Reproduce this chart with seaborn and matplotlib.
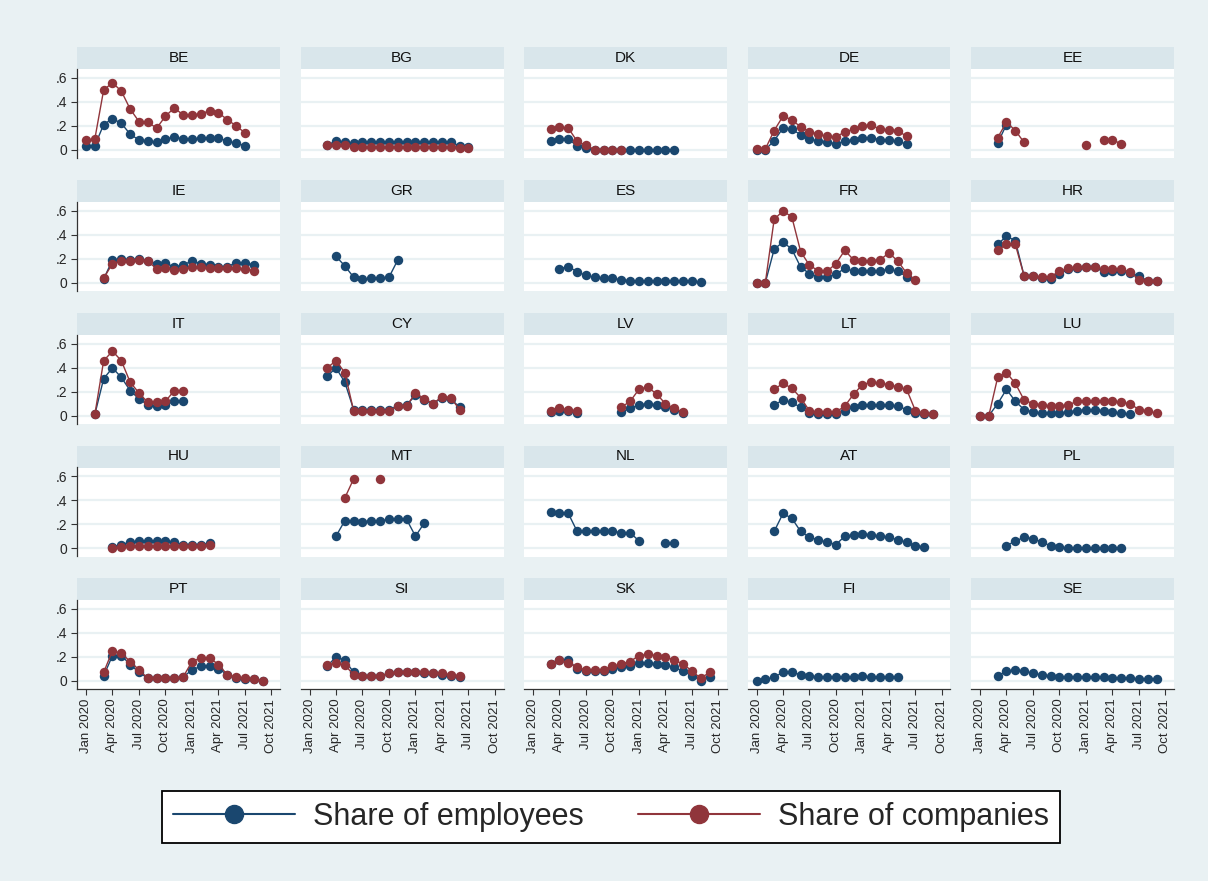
import matplotlib
matplotlib.use("Agg")
import pandas as pd
import matplotlib.pyplot as plt
from matplotlib.lines import Line2D
import seaborn as sns

# panel order, row by row
countries = ["BE", "BG", "DK", "DE", "EE",
             "IE", "GR", "ES", "FR", "HR",
             "IT", "CY", "LV", "LT", "LU",
             "HU", "MT", "NL", "AT", "PL",
             "PT", "SI", "SK", "FI", "SE"]

# month of the first value of each series (0 = Jan 2020)
start_month = [0, 2, 2, 0, 2,
               2, 3, 3, 0, 2,
               1, 2, 2, 2, 0,
               3, 3, 2, 2, 3,
               2, 2, 2, 0, 2]

tick_labels = ["Jan 2020", "Apr 2020", "Jul 2020", "Oct 2020",
               "Jan 2021", "Apr 2021", "Jul 2021", "Oct 2021"]

be_emp = [.033, .033, .21, .26, .22, .13, .08, .075, .06, .09, .105, .09, .09, .095, .1, .1, .07, .055, .033]
be_comp = [.08, .09, .5, .56, .49, .34, .235, .23, .18, .28, .35, .29, .29, .3, .325, .31, .25, .2, .14]
bg_emp = [.04, .07, .065, .055, .06, .065, .065, .065, .065, .065, .065, .065, .065, .065, .065, .03, .02]
bg_comp = [.035, .04, .04, .025, .025, .025, .025, .025, .025, .025, .025, .025, .025, .025, .025, .015, .012]
dk_emp = [.075, .09, .09, .03, .01, 0, 0, 0, 0, 0, 0, 0, 0, 0, 0]
dk_comp = [.175, .19, .18, .07, .035, 0, 0, 0, 0]
de_emp = [0, 0, .075, .18, .17, .125, .09, .07, .06, .05, .07, .083, .1, .1, .083, .078, .07, .047]
de_comp = [.005, .005, .16, .28, .25, .19, .15, .13, .11, .105, .15, .17, .2, .205, .17, .165, .16, .11]
ee_emp = [.055, .21]
ee_comp = [.1, .23, .16, .06, None, None, None, None, None, None, .035, None, .083, .083, .047]

ie_emp = [.03, .19, .2, .19, .2, .18, .16, .165, .13, .15, .18, .16, .15, .135, .135, .165, .165, .15]
ie_comp = [.037, .16, .18, .185, .19, .18, .115, .12, .105, .115, .13, .13, .12, .12, .12, .12, .115, .1]
gr_emp = [.22, .14, .045, .03, .035, .04, .045, .19]
gr_comp = []
es_emp = [.115, .135, .09, .06, .045, .035, .035, .025, .015, .015, .015, .015, .01, .01, .01, .01, .005]
es_comp = []
fr_emp = [0, 0, .28, .34, .28, .13, .075, .05, .05, .07, .12, .095, .095, .095, .1, .11, .095, .05]
fr_comp = [0, 0, .53, .6, .55, .26, .145, .1, .095, .16, .27, .19, .18, .185, .19, .25, .18, .08, .02]
hr_emp = [.32, .39, .35, .055, .055, .04, .03, .075, .11, .12, .13, .13, .09, .1, .1, .08, .055, .015, .01]
hr_comp = [.27, .32, .32, .055, .055, .045, .05, .095, .12, .13, .13, .13, .11, .11, .11, .09, .025, .01, .01]

it_emp = [.01, .31, .4, .32, .21, .14, .09, .08, .09, .12, .12]
it_comp = [.01, .46, .54, .46, .28, .19, .11, .11, .12, .21, .21]
cy_emp = [.33, .4, .28, .05, .05, .05, .05, .05, .08, .09, .17, .13, .1, .15, .14, .07]
cy_comp = [.4, .46, .36, .04, .04, .04, .04, .04, .08, .08, .19, .14, .1, .16, .15, .05]
lv_emp = [.03, .04, .04, .02, None, None, None, None, .03, .06, .09, .1, .09, .07, .05, .02]
lv_comp = [.04, .06, .05, .04, None, None, None, None, .07, .12, .22, .24, .18, .1, .06, .03]
lt_emp = [.09, .13, .11, .07, .02, .01, .01, .01, .04, .07, .09, .09, .09, .09, .08, .05, .02, .01, .01]
lt_comp = [.22, .27, .23, .15, .04, .03, .03, .03, .08, .18, .26, .28, .27, .26, .24, .22, .04, .02, .01]
lu_emp = [0, 0, .1, .22, .12, .05, .03, .02, .02, .02, .03, .04, .05, .05, .04, .03, .02, .01]
lu_comp = [0, 0, .32, .36, .27, .13, .1, .09, .08, .08, .09, .12, .12, .12, .12, .12, .11, .1, .05, .04, .02]

hu_emp = [.01, .03, .05, .06, .06, .06, .06, .05, .03, .03, .03, .04]
hu_comp = [0, .01, .02, .02, .02, .02, .02, .02, .02, .02, .02, .03]
mt_emp = [.1, .23, .23, .22, .23, .23, .24, .24, .24, .1, .21]
mt_comp = [None, .42, .58, None, None, .58]
nl_emp = [.3, .29, .29, .14, .14, .14, .14, .14, .13, .13, .06, None, None, .04, .04]
nl_comp = []
at_emp = [.14, .29, .25, .14, .09, .07, .05, .03, .1, .11, .12, .11, .1, .09, .07, .05, .02, .01]
at_comp = []
pl_emp = [.02, .06, .09, .08, .05, .02, .01, 0, 0, 0, 0, 0, 0, 0]
pl_comp = []

pt_emp = [.04, .21, .21, .135, .07, .02, .02, .02, .02, .03, .09, .12, .12, .1, .05, .02, .01, .01, 0]
pt_comp = [.07, .25, .23, .16, .09, .02, .02, .02, .02, .03, .16, .19, .19, .135, .05, .03, .02, .01, 0]
si_emp = [.12, .2, .17, .07, .04, .04, .04, .06, .07, .07, .07, .06, .06, .05, .04, .03]
si_comp = [.13, .15, .13, .05, .04, .04, .04, .06, .07, .07, .07, .07, .06, .06, .05, .04]
sk_emp = [.14, .17, .17, .1, .08, .08, .08, .1, .11, .12, .15, .15, .14, .13, .11, .08, .04, 0, .03]
sk_comp = [.14, .17, .15, .11, .09, .09, .09, .12, .14, .16, .21, .22, .21, .2, .17, .14, .08, .02, .07]
fi_emp = [0, .01, .03, .07, .07, .05, .04, .03, .03, .03, .03, .03, .04, .03, .03, .03, .03]
fi_comp = []
se_emp = [.04, .08, .09, .08, .06, .05, .04, .03, .03, .03, .03, .03, .03, .02, .02, .02, .01, .01, .01]
se_comp = []

employees = [be_emp, bg_emp, dk_emp, de_emp, ee_emp,
             ie_emp, gr_emp, es_emp, fr_emp, hr_emp,
             it_emp, cy_emp, lv_emp, lt_emp, lu_emp,
             hu_emp, mt_emp, nl_emp, at_emp, pl_emp,
             pt_emp, si_emp, sk_emp, fi_emp, se_emp]
companies = [be_comp, bg_comp, dk_comp, de_comp, ee_comp,
             ie_comp, gr_comp, es_comp, fr_comp, hr_comp,
             it_comp, cy_comp, lv_comp, lt_comp, lu_comp,
             hu_comp, mt_comp, nl_comp, at_comp, pl_comp,
             pt_comp, si_comp, sk_comp, fi_comp, se_comp]

NAVY = "#1a476f"
MAROON = "#90353b"
BG = "#e9f1f3"
STRIP = "#d9e6eb"
W, H = 1208, 881


def to_long(code, start, values, series):
    """One row per observed month, with a segment id so gaps are not joined."""
    rows = []
    seg = 0
    gap = True
    for i, v in enumerate(values):
        if v is None:
            gap = True
            continue
        if gap:
            seg += 1
            gap = False
        rows.append({"country": code, "month": start + i, "value": v,
                     "series": series, "seg": f"{series}{seg}"})
    return rows


def px_axes(fig, left, top, width, height):
    return fig.add_axes([left / W, 1 - (top + height) / H, width / W, height / H])


rows = []
for code, start, e, c in zip(countries, start_month, employees, companies):
    rows += to_long(code, start, e, "emp")
    rows += to_long(code, start, c, "comp")
df = pd.DataFrame(rows)

sns.set_style("white")
plt.rcParams["font.family"] = ["Liberation Sans", "DejaVu Sans"]

fig = plt.figure(figsize=(W / 100, H / 100), dpi=100, facecolor=BG)

col_left = [77, 300.5, 524, 747.5, 971]
row_top = [47, 180, 313, 445.5, 578]
panel_w, strip_h, plot_h = 203, 22, 89

for k, code in enumerate(countries):
    r, c = divmod(k, 5)
    left, top = col_left[c], row_top[r]

    strip = px_axes(fig, left, top, panel_w, strip_h)
    strip.set_facecolor(STRIP)
    strip.set_xticks([])
    strip.set_yticks([])
    for s in strip.spines.values():
        s.set_visible(False)
    strip.text(0.5, 0.5, code, ha="center", va="center", fontsize=11, color="#111111")

    ax = px_axes(fig, left, top + strip_h, panel_w, plot_h)
    ax.set_facecolor("white")
    sub = df[df["country"] == code]
    for series, color in [("emp", NAVY), ("comp", MAROON)]:
        part = sub[sub["series"] == series]
        if len(part) == 0:
            continue
        sns.lineplot(data=part, x="month", y="value", units="seg", estimator=None,
                     color=color, marker="o", markersize=6.8, markeredgewidth=0,
                     linewidth=1.0, legend=False, ax=ax)

    ax.set_xlim(-1.02, 21.97)
    ax.set_ylim(-0.07, 0.675)
    ax.set_yticks([0, .2, .4, .6])
    ax.yaxis.grid(True, color=BG, linewidth=1.6)
    ax.set_axisbelow(True)
    ax.set_xticks(range(0, 22, 3))
    ax.set_xlabel("")
    ax.set_ylabel("")
    for s in ax.spines.values():
        s.set_visible(False)

    if c == 0:
        ax.spines["left"].set_visible(True)
        ax.spines["left"].set_color("#333333")
        ax.spines["left"].set_linewidth(0.9)
        ax.set_yticklabels(["0", ".2", ".4", ".6"], fontsize=10)
        ax.tick_params(axis="y", length=4, width=0.8, color="#333333", pad=3, left=True)
    else:
        ax.tick_params(axis="y", left=False, labelleft=False)

    if r == 4:
        ax.spines["bottom"].set_visible(True)
        ax.spines["bottom"].set_color("#333333")
        ax.spines["bottom"].set_linewidth(0.9)
        ax.set_xticklabels(tick_labels, rotation=90, fontsize=9.5)
        ax.tick_params(axis="x", length=4, width=0.8, color="#333333", pad=3, bottom=True)
    else:
        ax.tick_params(axis="x", bottom=False, labelbottom=False)

handles = [Line2D([], [], color=NAVY, marker="o", markersize=13, linewidth=1.5),
           Line2D([], [], color=MAROON, marker="o", markersize=13, linewidth=1.5)]
leg = fig.legend(handles, ["Share of employees", "Share of companies"],
                 loc="center", bbox_to_anchor=(611 / W, 1 - 817 / H), ncol=2,
                 fontsize=22, frameon=True, fancybox=False, edgecolor="black",
                 framealpha=1, handlelength=4.0, handletextpad=0.6,
                 columnspacing=1.75, borderpad=0.35)
leg.get_frame().set_linewidth(1.3)

fig.savefig("out.png", dpi=100, facecolor=BG)
